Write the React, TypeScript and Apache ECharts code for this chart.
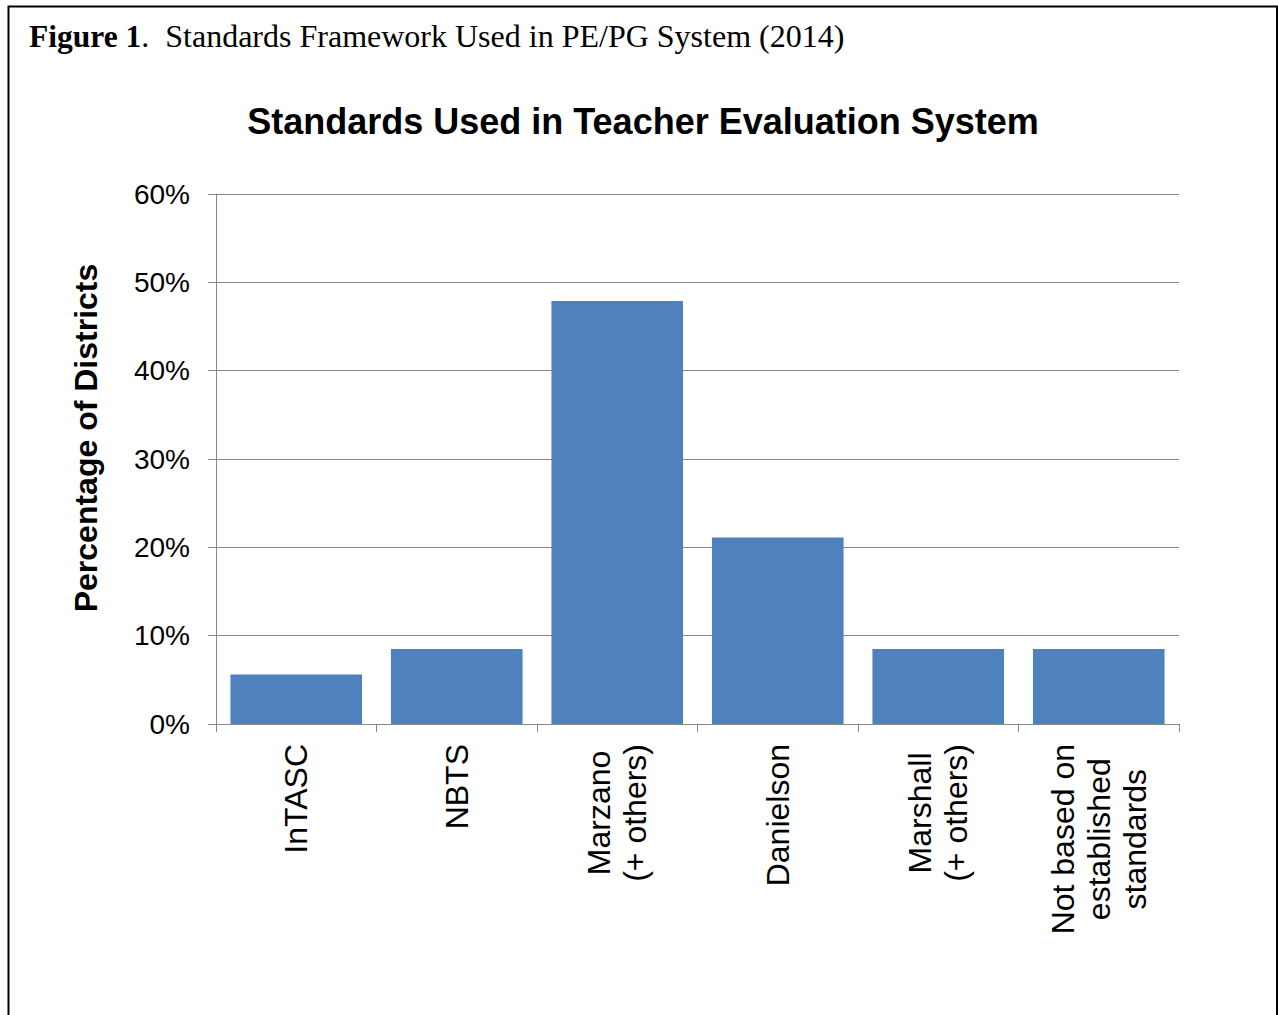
import React, { useEffect, useRef } from "react";
import * as echarts from "echarts";

const categories = [
  "InTASC",
  "NBTS",
  "Marzano\n(+ others)",
  "Danielson",
  "Marshall\n(+ others)",
  "Not based on\nestablished\nstandards",
];
const percentages = [5.6, 8.5, 47.9, 21.1, 8.5, 8.5];
const yMin = 0;
const yMax = 60;
const yInterval = 10;

const figureLabel = "Figure 1";
const figureCaption = ".  Standards Framework Used in PE/PG System (2014)";
const chartTitle = "Standards Used in Teacher Evaluation System";
const yAxisTitle = "Percentage of Districts";

const SANS = "'Liberation Sans', Arial, sans-serif";
const SERIF = "'Liberation Serif', 'Times New Roman', serif";
const GRAY = "#878787";

export default function App() {
  const ref = useRef<HTMLDivElement>(null);

  useEffect(() => {
    if (!ref.current) return;
    const chart = echarts.init(ref.current, undefined, { renderer: "svg" });
    chart.setOption({
      animation: false,
      backgroundColor: "#fff",
      title: [
        {
          text: `{b|${figureLabel}}{n|${figureCaption}}`,
          left: 29,
          top: 20,
          padding: 0,
          textStyle: {
            fontWeight: "normal",
            rich: {
              b: { fontFamily: SERIF, fontSize: 31.5, fontWeight: "bold", color: "#000" },
              n: { fontFamily: SERIF, fontSize: 32, fontWeight: "normal", color: "#000" },
            },
          },
        },
        {
          text: chartTitle,
          left: 643,
          textAlign: "center",
          top: 103,
          padding: 0,
          textStyle: { fontFamily: SANS, fontSize: 36, fontWeight: "bold", color: "#000" },
        },
      ],
      graphic: [
        {
          type: "rect",
          shape: { x: 8.5, y: 6.5, width: 1268.5, height: 1100 },
          style: { fill: "none", stroke: "#000", lineWidth: 2 },
          silent: true,
        },
      ],
      grid: { left: 216, right: 99, top: 194, bottom: 291, containLabel: false },
      xAxis: {
        type: "category",
        data: categories,
        boundaryGap: true,
        axisLine: { show: true, lineStyle: { color: GRAY, width: 1 } },
        axisTick: { show: true, length: 8, alignWithLabel: false, lineStyle: { color: GRAY } },
        axisLabel: {
          rotate: 90,
          margin: 20,
          interval: 0,
          formatter: (v: string) =>
            v
              .split("\n")
              .map((l) => `{c|${l}}`)
              .join("\n"),
          rich: {
            c: {
              align: "center",
              fontFamily: SANS,
              fontSize: 32,
              lineHeight: 36,
              color: "#000",
            },
          },
        },
      },
      yAxis: {
        type: "value",
        min: yMin,
        max: yMax,
        interval: yInterval,
        name: yAxisTitle,
        nameLocation: "middle",
        nameGap: 114,
        nameRotate: 90,
        nameTextStyle: {
          fontFamily: SANS,
          fontSize: 32,
          fontWeight: "bold",
          color: "#000",
          padding: [0, 0, 0, 42],
        },
        axisLine: { show: true, lineStyle: { color: GRAY, width: 1 } },
        axisTick: { show: true, length: 8, lineStyle: { color: GRAY } },
        axisLabel: {
          formatter: "{value}%",
          margin: 26,
          fontFamily: SANS,
          fontSize: 28,
          color: "#000",
        },
        splitLine: { show: true, lineStyle: { color: GRAY, width: 1 } },
      },
      series: [
        {
          type: "bar",
          data: percentages,
          barCategoryGap: "18%",
          itemStyle: { color: "#4F81BD" },
        },
      ],
    });
    return () => chart.dispose();
  }, []);

  return (
    <div
      ref={ref}
      style={{ position: "absolute", left: 0, top: 0, width: 1278, height: 1015 }}
    />
  );
}
